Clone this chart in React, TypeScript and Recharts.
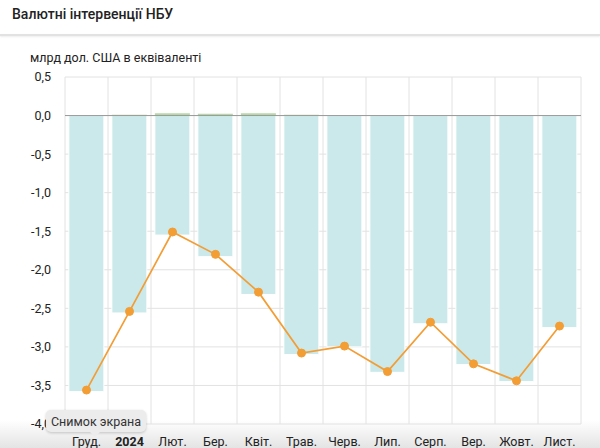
import React from "react";
import {
  ComposedChart,
  Bar,
  Line,
  XAxis,
  YAxis,
  CartesianGrid,
  ReferenceLine,
} from "recharts";

const months = ["Груд.", "2024", "Лют.", "Бер.", "Квіт.", "Трав.", "Черв.", "Лип.", "Серп.", "Вер.", "Жовт.", "Лист."];
const sales = [-3.58, -2.56, -1.55, -1.83, -2.32, -3.1, -3.0, -3.33, -2.7, -3.23, -3.45, -2.75];
const purchases = [0.004, 0.012, 0.03, 0.022, 0.03, 0.012, 0.004, 0.004, 0.004, 0.004, 0.004, 0.004];
const net = [-3.56, -2.54, -1.51, -1.8, -2.29, -3.08, -2.99, -3.32, -2.68, -3.22, -3.44, -2.73];
const yTicks = [0.5, 0, -0.5, -1, -1.5, -2, -2.5, -3, -3.5, -4];

const data = months.map((m, i) => ({
  month: m,
  sales: sales[i],
  purchases: purchases[i],
  net: net[i],
}));

const fmt = (v: number) => v.toFixed(1).replace(".", ",");

const XTick = (props: any) => {
  const { x, y, payload } = props;
  const bold = payload.value === "2024";
  return (
    <text
      x={x}
      y={y + 14}
      textAnchor="middle"
      fontSize={12.5}
      fontWeight={bold ? 700 : 400}
      fill="#222"
      fontFamily="Roboto, sans-serif"
    >
      {payload.value}
    </text>
  );
};

export default function App() {
  return (
    <div
      style={{
        position: "absolute",
        left: 0,
        top: 0,
        width: 600,
        height: 448,
        background: "#fff",
        overflow: "hidden",
        fontFamily: "Roboto, sans-serif",
      }}
    >
      <div
        style={{
          position: "absolute",
          left: 0,
          top: 420,
          width: 600,
          height: 28,
          background: "linear-gradient(to bottom, rgba(240,240,240,0), rgba(228,228,228,1))",
        }}
      />
      <div
        style={{
          position: "absolute",
          left: 12,
          top: 6,
          fontSize: 14,
          fontWeight: 500,
          color: "#222",
        }}
      >
        Валютні інтервенції НБУ
      </div>
      <div
        style={{
          position: "absolute",
          left: 0,
          top: 34,
          width: 600,
          height: 2,
          background: "#e2e2e2",
          boxShadow: "0 1px 2px rgba(0,0,0,0.08)",
        }}
      />
      <div
        style={{
          position: "absolute",
          left: 30,
          top: 50,
          fontSize: 12.5,
          color: "#222",
        }}
      >
        млрд дол. США в еквіваленті
      </div>
      <div style={{ position: "absolute", left: 0, top: 0 }}>
        <ComposedChart
          width={600}
          height={448}
          data={data}
          margin={{ top: 77, right: 19, bottom: 0, left: 0 }}
          stackOffset="sign"
          barCategoryGap="9%"
        >
          <CartesianGrid
            stroke="#e2e2e2"
            verticalCoordinatesGenerator={({ offset }: any) =>
              months.map((_, i) => offset.left + (i * offset.width) / months.length).concat([offset.left + offset.width])
            }
          />
          <XAxis
            dataKey="month"
            axisLine={false}
            tickLine={false}
            tick={<XTick />}
            height={24}
            interval={0}
          />
          <YAxis
            domain={[-4, 0.5]}
            ticks={yTicks}
            tickFormatter={fmt}
            axisLine={false}
            tickLine={false}
            width={65}
            tick={{ fontSize: 12.5, fill: "#222", fontFamily: "Roboto, sans-serif" }}
            tickMargin={8}
          />
          <Bar dataKey="sales" stackId="a" fill="#cbe9ea" stroke="#ffffff" strokeWidth={1} isAnimationActive={false} />
          <Bar dataKey="purchases" stackId="a" fill="#b6d8a8" isAnimationActive={false} />
          <ReferenceLine y={0} stroke="#9a9a9a" strokeWidth={1} />
          <Line
            dataKey="net"
            stroke="#f39d35"
            strokeWidth={1.7}
            dot={{ r: 4, fill: "#f39d35", stroke: "#f39d35", strokeWidth: 1 }}
            isAnimationActive={false}
          />
        </ComposedChart>
      </div>
      <div
        style={{
          position: "absolute",
          left: 46,
          top: 410,
          width: 100,
          height: 22,
          borderRadius: 5,
          background: "#ececec",
          boxShadow: "0 1px 3px rgba(0,0,0,0.2)",
          fontSize: 12.5,
          color: "#333",
          display: "flex",
          alignItems: "center",
          justifyContent: "center",
        }}
      >
        Снимок экрана
        <div
          style={{
            position: "absolute",
            left: 44,
            top: 22,
            width: 0,
            height: 0,
            borderLeft: "5px solid transparent",
            borderRight: "5px solid transparent",
            borderTop: "5px solid #ececec",
          }}
        />
      </div>
    </div>
  );
}
